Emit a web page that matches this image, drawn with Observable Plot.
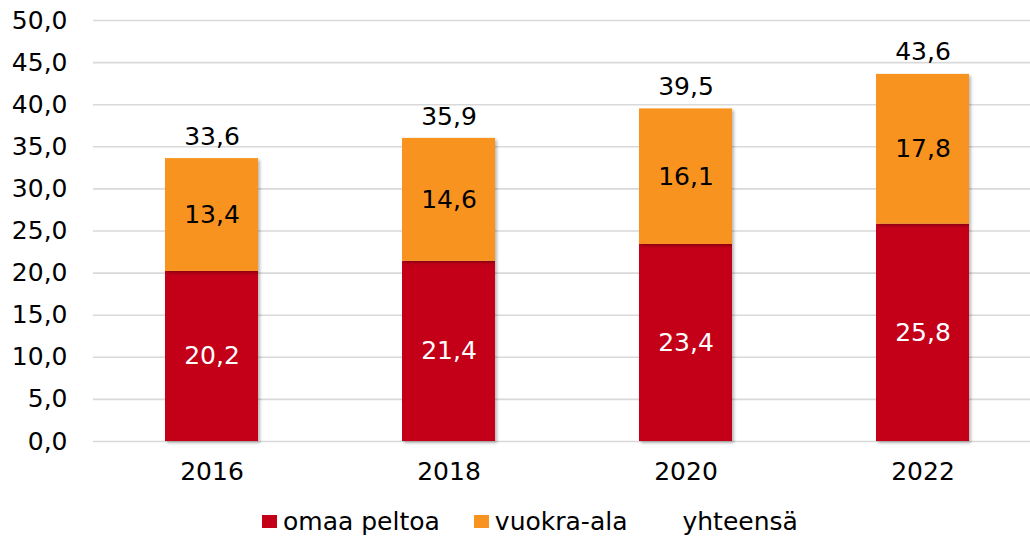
<!DOCTYPE html>
<html>
<head>
<meta charset="utf-8">
<script src="https://cdn.jsdelivr.net/npm/d3@7"></script>
<script src="https://cdn.jsdelivr.net/npm/@observablehq/plot@0.6"></script>
<style>
  body { margin: 0; background: #fff; }
  #chart svg g[aria-label="bar"] rect { filter: drop-shadow(2px 2px 1.5px rgba(0,0,0,0.28)); }
  .lg { display: flex; justify-content: flex-start; align-items: center; height: 40px;
        font-family: "DejaVu Sans", Verdana, sans-serif; font-size: 25px; color: #000;
        padding-left: 262px; padding-top: 2px; box-sizing: border-box; }
  .lg span.item { display: inline-flex; align-items: center; margin-right: 34px; }
  .lg span.sw { display: inline-block; width: 15px; height: 13px; margin-right: 6px; }
</style>
</head>
<body>
<div id="chart"></div>
<script>
const years = ["2016", "2018", "2020", "2022"];
const omaaPeltoa = [20.2, 21.4, 23.4, 25.8];
const vuokraAla = [13.4, 14.6, 16.1, 17.8];
const yhteensa = [33.6, 35.9, 39.5, 43.6];
const seriesNames = ["omaa peltoa", "vuokra-ala", "yhteensä"];
const seriesColors = ["#C40019", "#F7931E", "none"];
const yTicks = [0, 5, 10, 15, 20, 25, 30, 35, 40, 45, 50];

const fmt = d => d.toFixed(1).replace(".", ",");

const rows = [];
years.forEach((y, i) => {
  rows.push({year: y, series: seriesNames[0], value: omaaPeltoa[i]});
  rows.push({year: y, series: seriesNames[1], value: vuokraAla[i]});
});
const totals = years.map((y, i) => ({year: y, value: yhteensa[i]}));

const font = "'DejaVu Sans', Verdana, sans-serif";

const plot = Plot.plot({
  width: 1030,
  height: 500,
  marginTop: 20,
  marginBottom: 59,
  marginLeft: 93,
  marginRight: 0,
  style: {fontFamily: font, fontSize: "25px", color: "#000", background: "#fff"},
  x: {domain: years, range: [93, 1041], paddingInner: 0.607, paddingOuter: 0.3035, label: null},
  y: {domain: [0, 50], label: null},
  color: {domain: seriesNames, range: seriesColors},
  marks: [
    Plot.ruleY(yTicks, {stroke: "#d9d9d9", strokeWidth: 1.6}),
    Plot.barY(rows, Plot.stackY({x: "year", y: "value", fill: "series", order: seriesNames})),
    Plot.text(rows, Plot.stackY({
      x: "year", y: "value", order: seriesNames,
      text: d => fmt(d.value),
      fill: d => d.series === seriesNames[0] ? "#fff" : "#000",
      fontSize: 25
    })),
    Plot.text(totals, {x: "year", y: "value", text: d => fmt(d.value), lineAnchor: "bottom", dy: -14, fontSize: 25, fill: "#000"}),
    Plot.axisY({ticks: yTicks, tickFormat: fmt, tickSize: 0, tickPadding: 26, fontSize: 25, label: null}),
    Plot.axisX({tickSize: 0, tickPadding: 21, fontSize: 25, label: null})
  ]
});
document.getElementById("chart").appendChild(plot);

const lg = document.createElement("div");
lg.className = "lg";
seriesNames.forEach((n, i) => {
  const item = document.createElement("span");
  item.className = "item";
  const sw = document.createElement("span");
  sw.className = "sw";
  sw.style.background = seriesColors[i] === "none" ? "transparent" : seriesColors[i];
  item.appendChild(sw);
  item.appendChild(document.createTextNode(n));
  lg.appendChild(item);
});
document.getElementById("chart").appendChild(lg);
</script>
</body>
</html>
